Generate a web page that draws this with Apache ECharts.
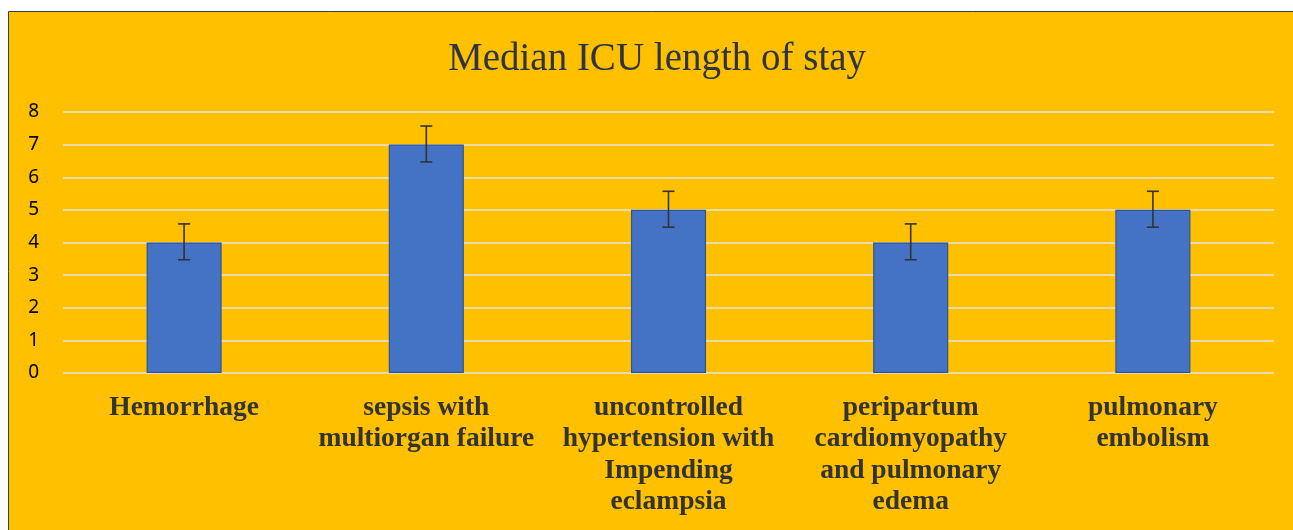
<!DOCTYPE html>
<html><head><meta charset="utf-8">
<script src="https://cdn.jsdelivr.net/npm/echarts@6/dist/echarts.min.js"></script>
<style>html,body{margin:0;padding:0;background:#fff;}#c{width:1293px;height:530px;}</style>
</head><body><div id="c"></div>
<script>
const categories = ['Hemorrhage', 'sepsis with\nmultiorgan failure', 'uncontrolled\nhypertension with\nImpending\neclampsia', 'peripartum\ncardiomyopathy\nand pulmonary\nedema', 'pulmonary\nembolism'];
const medians = [4, 7, 5, 4, 5];
const errLow = [3.47, 6.47, 4.47, 3.47, 4.47];
const errHigh = [4.57, 7.57, 5.57, 4.57, 5.57];
const yTicks = [0, 1, 2, 3, 4, 5, 6, 7, 8];

const chart = echarts.init(document.getElementById('c'));
chart.setOption({
  backgroundColor: '#fff',
  animation: false,
  graphic: [{type: 'rect', z: -10, shape: {x: 8.5, y: 11.5, width: 1300, height: 540}, style: {fill: '#FFC000', stroke: '#3a3a3a', lineWidth: 1}}],
  title: {text: 'Median ICU length of stay', left: 443, top: 35,
    textStyle: {fontFamily: 'Liberation Serif', fontWeight: 'normal', fontSize: 39, color: '#2F3445'}},
  grid: {left: 63, right: 19, top: 112, bottom: 157},
  xAxis: {type: 'category', data: categories,
    axisLine: {show: false}, axisTick: {show: false},
    axisLabel: {interval: 0, margin: 19, fontFamily: 'Liberation Serif', fontWeight: 'bold', fontSize: 27.5, lineHeight: 31.5, color: '#333', align: 'center'}},
  yAxis: {type: 'value', min: yTicks[0], max: yTicks[yTicks.length-1], interval: 1,
    axisLine: {show: false}, axisTick: {show: false},
    splitLine: {lineStyle: {color: '#E4E4E4', width: 1.5}},
    axisLabel: {margin: 24, fontFamily: 'Noto Sans', fontSize: 19, color: '#000'}},
  series: [
    {type: 'bar', data: medians, barWidth: '31%',
      itemStyle: {color: '#4472C4', borderColor: '#2F5597', borderWidth: 1.2}},
    {type: 'custom', data: categories.map((c, i) => [i, errLow[i], errHigh[i]]),
      z: 10,
      renderItem: function (params, api) {
        const x = api.value(0);
        const lo = api.coord([x, api.value(1)]);
        const hi = api.coord([x, api.value(2)]);
        const hw = 6;
        const st = {stroke: '#333', lineWidth: 1.6};
        return {type: 'group', children: [
          {type: 'line', shape: {x1: hi[0], y1: hi[1], x2: lo[0], y2: lo[1]}, style: st},
          {type: 'line', shape: {x1: hi[0]-hw, y1: hi[1], x2: hi[0]+hw, y2: hi[1]}, style: st},
          {type: 'line', shape: {x1: lo[0]-hw, y1: lo[1], x2: lo[0]+hw, y2: lo[1]}, style: st}
        ]};
      }}
  ]
});
</script></body></html>
